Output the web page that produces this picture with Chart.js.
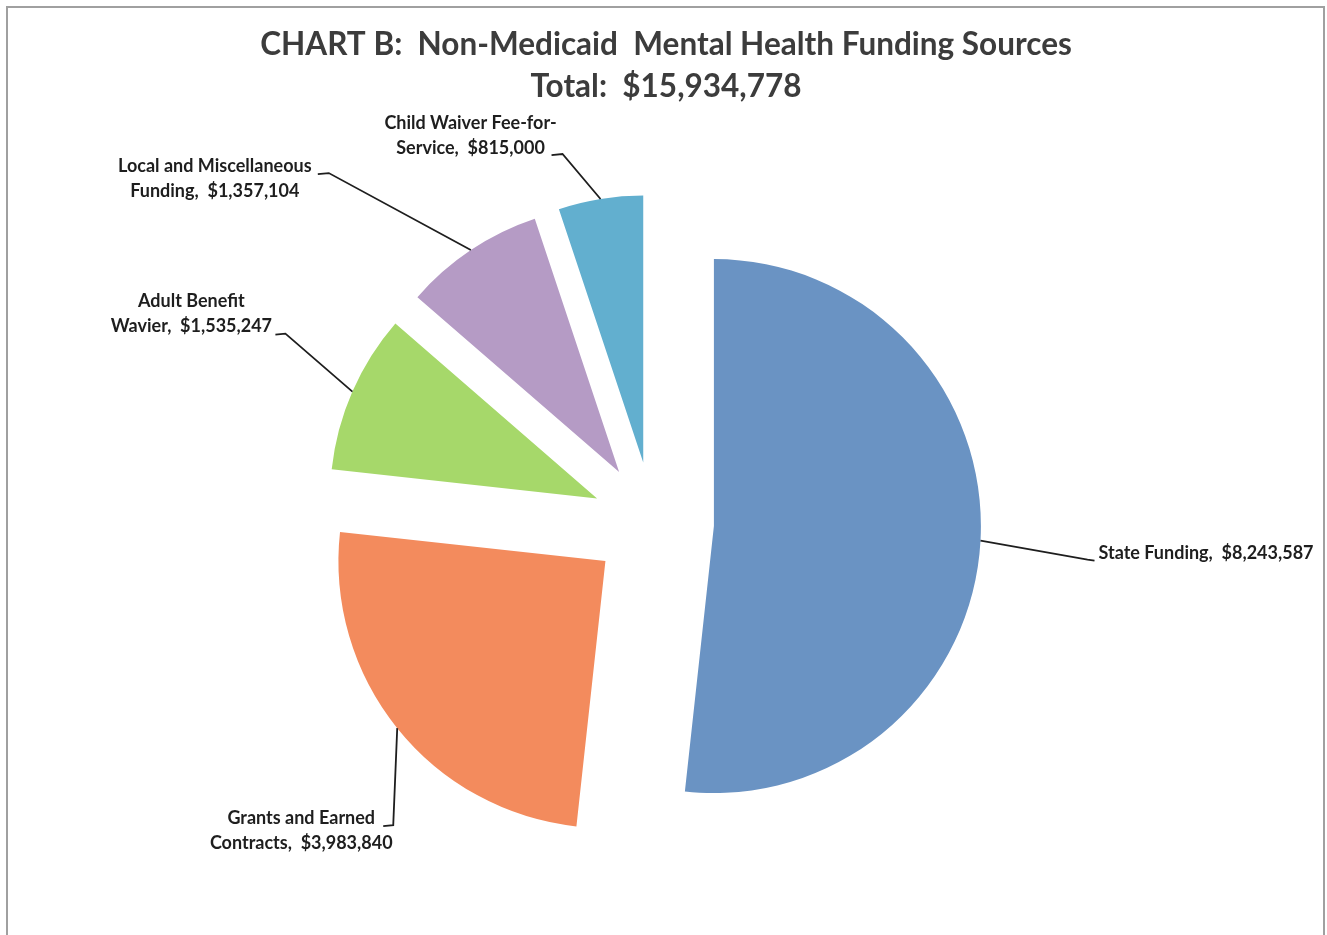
<!DOCTYPE html>
<html lang="en">
<head>
    <meta charset="UTF-8">
    <title>Chart B: Non-Medicaid Mental Health Funding Sources</title>
    <style>
        html, body {
            margin: 0;
            padding: 0;
            background-color: #fff;
            overflow: hidden;
        }

        #wrap {
            position: relative;
            width: 1327px;
            height: 935px;
        }
    </style>
    <script src="https://cdn.jsdelivr.net/npm/chart.js"></script>
</head>
<body>
    <div id="wrap">
        <canvas id="fundingChart"></canvas>
    </div>

    <script>
        // Funding sources, clockwise from 12 o'clock
        const categories = [
            'State Funding',
            'Grants and Earned Contracts',
            'Adult Benefit Wavier',
            'Local and Miscellaneous Funding',
            'Child Waiver Fee-for-Service'
        ];
        const amounts = [8243587, 3983840, 1535247, 1357104, 815000];
        // how each data label is broken into lines
        const labelLines = [
            ['State Funding,  $'],
            ['Grants and Earned', 'Contracts,  $'],
            ['Adult Benefit', 'Wavier,  $'],
            ['Local and Miscellaneous', 'Funding,  $'],
            ['Child Waiver Fee-for-', 'Service,  $']
        ];
        const sliceColors = ['#6a93c3', '#f38b5d', '#a6d86a', '#b59bc5', '#62afcf'];

        const total = amounts.reduce((a, b) => a + b, 0);
        const money = v => v.toLocaleString('en-US');

        const FONT = 'Lato, "Open Sans", sans-serif';
        const EXPLODE = 61;   // distance each slice is pulled out
        const RADIUS = 267;
        const PIE_NUDGE_X = -13; // pie sits a little left of the title

        // leader line layout per slice: elbow offset from the slice edge,
        // text offset from the elbow, and where the little tick points
        const leaders = [
            { dx: 107, dy: 19, tick: 7, tx: 11, ty: -6, align: 'left' },
            { dx: -4, dy: 97, tick: -10, tx: -92, ty: -7, align: 'center' },
            { dx: -67, dy: -58, tick: -10, tx: -94, ty: -32, align: 'center' },
            { dx: -142, dy: -77, tick: -11, tx: -114, ty: -7, align: 'center' },
            { dx: -38, dy: -45, tick: -11, tx: -92, ty: -31, align: 'center' }
        ];

        // pulls every slice away from the centre along its middle angle
        const explodePlugin = {
            id: 'explode',
            afterDatasetUpdate(chart, args) {
                args.meta.data.forEach(arc => {
                    const mid = (arc.startAngle + arc.endAngle) / 2;
                    arc.x += Math.cos(mid) * EXPLODE + PIE_NUDGE_X;
                    arc.y += Math.sin(mid) * EXPLODE;
                });
            }
        };

        // grey frame round the whole picture
        const framePlugin = {
            id: 'frame',
            beforeDraw(chart) {
                const ctx = chart.ctx;
                ctx.save();
                ctx.strokeStyle = '#a0a0a0';
                ctx.lineWidth = 2;
                ctx.strokeRect(7, 7, chart.width - 10, chart.height + 20);
                ctx.restore();
            }
        };

        // data labels with leader lines
        const leaderPlugin = {
            id: 'leaders',
            afterDatasetsDraw(chart) {
                const ctx = chart.ctx;
                const arcs = chart.getDatasetMeta(0).data;
                ctx.save();
                ctx.font = 'bold 18px ' + FONT;
                ctx.fillStyle = '#1e1e1e';
                ctx.strokeStyle = '#1e1e1e';
                ctx.lineWidth = 1.8;
                ctx.textBaseline = 'middle';
                arcs.forEach((arc, i) => {
                    const l = leaders[i];
                    const mid = (arc.startAngle + arc.endAngle) / 2;
                    const ax = arc.x + Math.cos(mid) * arc.outerRadius;
                    const ay = arc.y + Math.sin(mid) * arc.outerRadius;
                    const ex = ax + l.dx;
                    const ey = ay + l.dy;

                    ctx.beginPath();
                    ctx.moveTo(ax, ay);
                    ctx.lineTo(ex, ey);
                    ctx.lineTo(ex + l.tick, ey + 1);
                    ctx.stroke();

                    const lines = labelLines[i].slice();
                    lines[lines.length - 1] += money(amounts[i]);
                    ctx.textAlign = l.align;
                    lines.forEach((txt, k) => {
                        ctx.fillText(txt, ex + l.tx, ey + l.ty + k * 25);
                    });
                });
                ctx.restore();
            }
        };

        const ctx = document.getElementById('fundingChart').getContext('2d');
        new Chart(ctx, {
            type: 'pie',
            data: {
                labels: categories,
                datasets: [{
                    data: amounts,
                    backgroundColor: sliceColors,
                    borderWidth: 0
                }]
            },
            options: {
                responsive: true,
                maintainAspectRatio: false,
                animation: false,
                events: [],
                radius: RADIUS,
                layout: {
                    padding: { left: 5, right: 0, top: 0, bottom: 0 }
                },
                plugins: {
                    legend: { display: false },
                    tooltip: { enabled: false },
                    title: {
                        display: true,
                        text: 'CHART B:  Non-Medicaid  Mental Health Funding Sources',
                        color: '#3c3c3c',
                        font: { family: FONT, size: 31.5, weight: 'bold', lineHeight: 1.2 },
                        padding: { top: 26, bottom: 4 }
                    },
                    subtitle: {
                        display: true,
                        text: 'Total:  $' + money(total),
                        color: '#3c3c3c',
                        font: { family: FONT, size: 31.5, weight: 'bold', lineHeight: 1.2 },
                        padding: { top: 0, bottom: 5 }
                    }
                }
            },
            plugins: [framePlugin, explodePlugin, leaderPlugin]
        });
    </script>
</body>
</html>
